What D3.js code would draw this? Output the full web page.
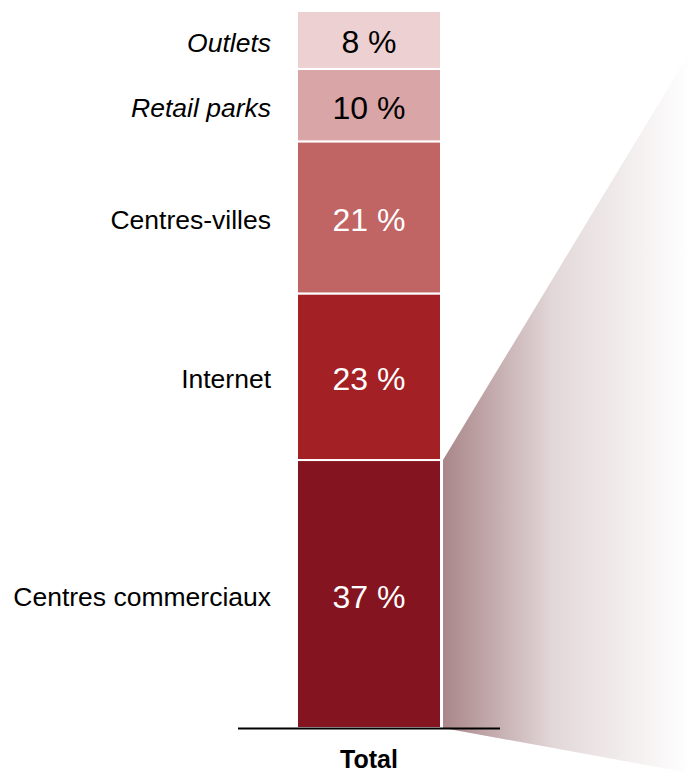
<!DOCTYPE html>
<html>
<head>
<meta charset="utf-8">
<script src="https://cdn.jsdelivr.net/npm/d3@7"></script>
<style>
  html, body { margin: 0; padding: 0; background: #fff; }
  svg { display: block; }
</style>
</head>
<body>
<svg id="chart" width="690" height="773"></svg>
<script>
// Shares of sales by channel (stacked from bottom to top)
const categories = ["Centres commerciaux", "Internet", "Centres-villes", "Retail parks", "Outlets"];
const values = [37, 23, 21, 10, 8];
const italicLabels = ["Retail parks", "Outlets"];
const groups = ["Total"];

const colors = ["#841520", "#a32024", "#c06464", "#daa5a6", "#edd0d2"];
const textColors = ["#ffffff", "#ffffff", "#ffffff", "#000000", "#000000"];

const svg = d3.select("#chart");
const W = 690, H = 773;
const FONT = "Liberation Sans, Arial, sans-serif";

const total = d3.sum(values);
const y = d3.scaleLinear().domain([0, total]).range([728, 11]);
const x = d3.scaleBand().domain(groups).range([297, 441]).padding(0);

// stacked extents
const stackData = [{}];
categories.forEach((c, i) => stackData[0][c] = values[i]);
const series = d3.stack().keys(categories)(stackData);

// Fan-out wedge behind the largest segment
const base = series[0][0];
const defs = svg.append("defs");
const grad = defs.append("linearGradient").attr("id", "fan")
  .attr("x1", "0").attr("y1", "0").attr("x2", "1").attr("y2", "0");
grad.append("stop").attr("offset", "0").attr("stop-color", "#a98689");
grad.append("stop").attr("offset", "0.45").attr("stop-color", "#e3d8d9");
grad.append("stop").attr("offset", "1").attr("stop-color", "#ffffff");

const xr = x("Total") + x.bandwidth() + 2;
svg.append("path")
  .attr("d", d3.line()([
    [xr, y(base[1])],
    [W, 52],
    [W, H],
    [xr, y(base[0])]
  ]) + "Z")
  .attr("fill", "url(#fan)");

// Stacked segments
const seg = svg.append("g");
series.forEach((s, i) => {
  const d = s[0];
  seg.append("rect")
    .attr("x", x("Total"))
    .attr("width", x.bandwidth())
    .attr("y", y(d[1]))
    .attr("height", y(d[0]) - y(d[1]))
    .attr("fill", colors[i])
    .attr("stroke", "#ffffff")
    .attr("stroke-width", 2);

  const cy = (y(d[0]) + y(d[1])) / 2 + 2;
  seg.append("text")
    .attr("x", x("Total") + x.bandwidth() / 2)
    .attr("y", cy)
    .attr("dy", "0.36em")
    .attr("text-anchor", "middle")
    .attr("font-family", FONT)
    .attr("font-size", 32)
    .attr("fill", textColors[i])
    .text(values[i] + " %");

  seg.append("text")
    .attr("x", 271)
    .attr("y", cy)
    .attr("dy", "0.36em")
    .attr("text-anchor", "end")
    .attr("font-family", FONT)
    .attr("font-size", 26.5)
    .attr("font-style", italicLabels.includes(categories[i]) ? "italic" : "normal")
    .attr("fill", "#000")
    .text(categories[i]);
});

// Baseline and category label
svg.append("line")
  .attr("x1", 238).attr("x2", 500)
  .attr("y1", y(0) + 0.5).attr("y2", y(0) + 0.5)
  .attr("stroke", "#000").attr("stroke-width", 2);

svg.append("text")
  .attr("x", x("Total") + x.bandwidth() / 2)
  .attr("y", 768)
  .attr("text-anchor", "middle")
  .attr("font-family", FONT)
  .attr("font-size", 25)
  .attr("font-weight", "bold")
  .text("Total");
</script>
</body>
</html>
